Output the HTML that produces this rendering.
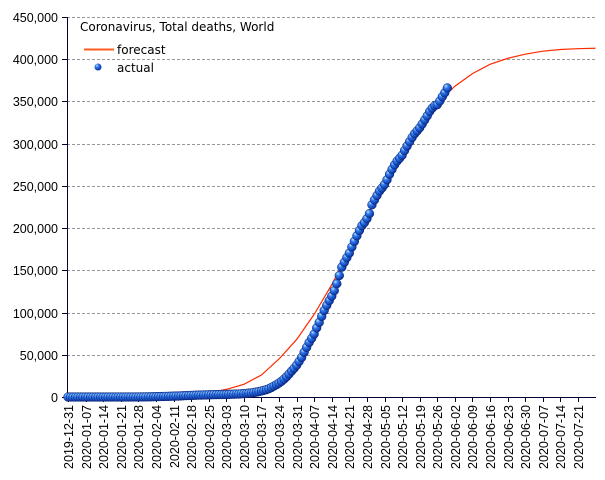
<!DOCTYPE html>
<html><head><meta charset="utf-8"><style>
body{margin:0;background:#fff;}
svg{display:block;font-family:"Liberation Sans",sans-serif;}
</style></head><body>
<svg id="chart" width="605" height="480" viewBox="0 0 605 480">
<defs>
<radialGradient id="ball" cx="0.35" cy="0.3" r="0.7">
<stop offset="0" stop-color="#bfe0ff"/><stop offset="0.35" stop-color="#2f7cf0"/><stop offset="1" stop-color="#0a2f9a"/>
</radialGradient>
</defs>
<g id="grid"></g>
<g id="yaxis"></g>
<g id="xaxis"></g>
<g id="forecast"></g>
<g id="actual"></g>
<text x="80" y="31" font-size="12" font-family="DejaVu Sans, sans-serif" fill="#000">Coronavirus, Total deaths, World</text>
<g font-family="DejaVu Sans, sans-serif">
<line x1="84" y1="49.5" x2="114" y2="49.5" stroke="#ff5a1f" stroke-width="2"/>
<text x="117" y="54" font-size="12">forecast</text>
<circle cx="98" cy="67" r="3.5" fill="url(#ball)"/>
<text x="117" y="72" font-size="12">actual</text>
</g>
</svg>
<script>
const yTicks=[0,50000,100000,150000,200000,250000,300000,350000,400000,450000];
const xTickLabels=["2019-12-31","2020-01-07","2020-01-14","2020-01-21","2020-01-28","2020-02-04","2020-02-11","2020-02-18","2020-02-25","2020-03-03","2020-03-10","2020-03-17","2020-03-24","2020-03-31","2020-04-07","2020-04-14","2020-04-21","2020-04-28","2020-05-05","2020-05-12","2020-05-19","2020-05-26","2020-06-02","2020-06-09","2020-06-16","2020-06-23","2020-06-30","2020-07-07","2020-07-14","2020-07-21"];
// actual daily values starting 2019-12-31
const actualValues=[0,0,0,0,0,0,0,0,0,0,0,1,1,1,1,1,1,1,2,2,3,4,6,17,18,26,42,56,82,131,133,171,213,259,362,426,492,564,634,719,806,906,1013,1113,1118,1371,1523,1666,1770,1868,2007,2122,2247,2251,2458,2469,2629,2708,2770,2814,2872,2941,2996,3085,3160,3254,3348,3460,3558,3802,3988,4262,4615,4720,5404,5819,6440,7126,7905,8733,9867,11299,12973,14623,16497,18615,21181,23970,27198,30652,33925,37582,42107,46809,52983,58787,64606,69374,74565,81865,88338,95455,102525,108503,114090,119482,125984,134177,143800,153822,159510,165044,170436,177641,184236,190858,197159,202846,206544,211167,217153,227638,233388,238650,243808,247503,251537,257239,263831,269567,274898,279311,282709,286330,291942,297197,302418,307395,311847,315185,318789,323285,328115,332924,338160,342097,345059,346232,350453,355629,360308,366000];
// forecast weekly values, day index from 2019-12-31
const forecastDays=[49,56,63,70,77,84,91,98,105,112,119,126,133,140,147,154,161,168,175,182,189,196,203,210];
const forecastValues=[0,5000,9000,15000,26000,45000,68000,98000,133000,173000,214000,254000,291000,322000,348000,368000,383000,394000,401000,406000,409500,411500,412500,413000];
const NS="http://www.w3.org/2000/svg";
const X0=68,PXD=2.512,Y0=397,YT=17,YMAX=450000;
const xs=d=>X0+d*PXD, ys=v=>Y0-v/YMAX*(Y0-YT);
function mk(tag,attrs,parent){const e=document.createElementNS(NS,tag);for(const k in attrs)e.setAttribute(k,attrs[k]);parent.appendChild(e);return e;}
const grid=document.getElementById('grid'),ya=document.getElementById('yaxis'),xa=document.getElementById('xaxis');
yTicks.forEach(v=>{
  const y=Math.round(ys(v))+0.5;
  if(v>0){const g=mk('line',{x1:67,x2:596,y1:y,y2:y,stroke:'#999','stroke-dasharray':'3,2'},grid);
  
  }
  const t=mk('line',{x1:62,x2:67,y1:y,y2:y,stroke:'#000033'},ya);
  
  
  const l=mk('text',{x:58,y:y+4.5,'text-anchor':'end','font-size':'12.5'},ya);
  l.textContent=v.toLocaleString('en-US');
  
  
});
const yl=mk('line',{x1:67.5,x2:67.5,y1:17,y2:398,stroke:'#000033'},ya);


const xl=mk('line',{x1:67,x2:596,y1:397.5,y2:397.5,stroke:'#000033'},xa);


xTickLabels.forEach((s,i)=>{
  const x=Math.round(xs(i*7))+0.5;
  const t=mk('line',{x1:x,x2:x,y1:397,y2:402,stroke:'#000033'},xa);
  
  
  const l=mk('text',{x:0,y:0,'text-anchor':'end','font-size':'12.5',transform:`translate(${x+4.5},405) rotate(-90)`},xa);
  l.textContent=s;
  
  
});
const fp=mk('polyline',{points:forecastDays.map((d,i)=>xs(d)+','+ys(forecastValues[i])).join(' '),fill:'none',stroke:'#ff2a00','stroke-width':1.2},document.getElementById('forecast'));


const ag=document.getElementById('actual');
actualValues.forEach((v,i)=>{
  const c=mk('circle',{cx:xs(i),cy:ys(v),r:4.4,fill:'url(#ball)',stroke:'#0a2270','stroke-width':0.5},ag);
  
  
});
</script>
</body></html>
